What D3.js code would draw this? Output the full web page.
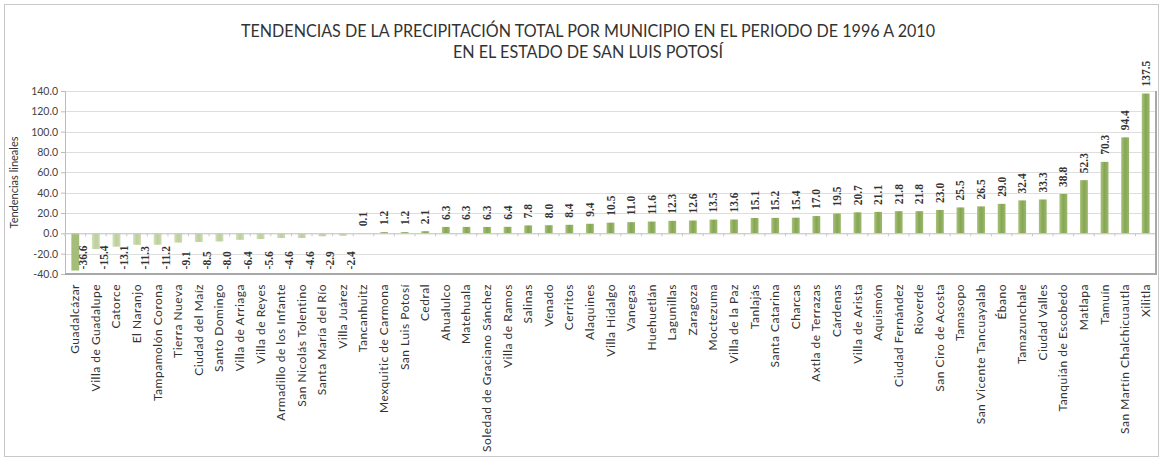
<!DOCTYPE html>
<html><head><meta charset="utf-8">
<script src="https://cdn.jsdelivr.net/npm/d3@7"></script>
<style>body{margin:0;background:#fff}svg{display:block}</style>
</head><body>
<script>
const municipios = ["Guadalcázar","Villa de Guadalupe","Catorce","El Naranjo","Tampamolón Corona","Tierra Nueva","Ciudad del Maíz","Santo Domingo","Villa de Arriaga","Villa de Reyes","Armadillo de los Infante","San Nicolás Tolentino","Santa María del Río","Villa Juárez","Tancanhuitz","Mexquitic de Carmona","San Luis Potosí","Cedral","Ahualulco","Matehuala","Soledad de Graciano Sánchez","Villa de Ramos","Salinas","Venado","Cerritos","Alaquines","Villa Hidalgo","Vanegas","Huehuetlán","Lagunillas","Zaragoza","Moctezuma","Villa de la Paz","Tanlajás","Santa Catarina","Charcas","Axtla de Terrazas","Cárdenas","Villa de Arista","Aquismón","Ciudad Fernández","Rioverde","San Ciro de Acosta","Tamasopo","San Vicente Tancuayalab","Ébano","Tamazunchale","Ciudad Valles","Tanquián de Escobedo","Matlapa","Tamuín","San Martín Chalchicuautla","Xilitla"];
const tendencias = [-36.6,-15.4,-13.1,-11.3,-11.2,-9.1,-8.5,-8.0,-6.4,-5.6,-4.6,-4.6,-2.9,-2.4,0.1,1.2,1.2,2.1,6.3,6.3,6.3,6.4,7.8,8.0,8.4,9.4,10.5,11.0,11.6,12.3,12.6,13.5,13.6,15.1,15.2,15.4,17.0,19.5,20.7,21.1,21.8,21.8,23.0,25.5,26.5,29.0,32.4,33.3,38.8,52.3,70.3,94.4,137.5];
const yTicks = [-40,-20,0,20,40,60,80,100,120,140];
const titleLines = ["TENDENCIAS DE LA PRECIPITACIÓN TOTAL POR MUNICIPIO EN EL PERIODO DE 1996 A 2010","EN EL ESTADO DE SAN LUIS POTOSÍ"];
const yTitle = "Tendencias lineales";

const W = 1162, H = 458;
const plot = {left: 65, right: 1156, top: 91, bottom: 274};
const svg = d3.select("body").append("svg").attr("width", W).attr("height", H);

// outer frame
svg.append("rect").attr("x", 4.5).attr("y", 4.5).attr("width", 1154).attr("height", 452)
  .attr("fill", "#fff").attr("stroke", "#c8c8c8");

const x = d3.scaleBand().domain(municipios).range([plot.left, plot.right]).paddingInner(0.62).paddingOuter(0.31);
const y = d3.scaleLinear().domain([-40, 140]).range([plot.bottom, plot.top]);

// title
svg.append("g").selectAll("text").data(titleLines).join("text")
  .attr("x", 588).attr("y", (d, i) => 37 + i * 21)
  .attr("text-anchor", "middle")
  .attr("font-family", "Lato, 'Liberation Sans', sans-serif")
  .attr("font-size", 17).attr("fill", "#333")
  .attr("textLength", (d, i) => i === 0 ? 694 : 270).attr("lengthAdjust", "spacingAndGlyphs")
  .text(d => d);

// gridlines
svg.append("g").selectAll("line").data(yTicks).join("line")
  .attr("x1", plot.left).attr("x2", plot.right)
  .attr("y1", d => Math.round(y(d)) + 0.5).attr("y2", d => Math.round(y(d)) + 0.5)
  .attr("stroke", "#dedede");

// y axis
const yAxis = d3.axisLeft(y).tickValues(yTicks).tickFormat(d3.format(".1f")).tickSize(4).tickPadding(3);
const ga = svg.append("g").attr("transform", `translate(${plot.left},0)`).call(yAxis);
ga.select(".domain").attr("stroke", "#bbb");
ga.selectAll(".tick line").attr("stroke", "#bbb");
ga.selectAll(".tick text").attr("font-family", "Lato, 'Liberation Sans', sans-serif").attr("font-size", 10.5).attr("fill", "#444")
  .text(d => d3.format(".1f")(d).replace("−", "-"));

// y title
svg.append("text").attr("transform", `translate(18,${(plot.top + plot.bottom) / 2}) rotate(-90)`)
  .attr("text-anchor", "middle").attr("font-family", "Lato, 'Liberation Sans', sans-serif")
  .attr("font-size", 11).attr("fill", "#333").text(yTitle);

// gradients
const defs = svg.append("defs");
const gp = defs.append("linearGradient").attr("id", "gpos").attr("x1", 0).attr("x2", 1).attr("y1", 0).attr("y2", 0);
gp.append("stop").attr("offset", 0).attr("stop-color", "#a9c27c");
gp.append("stop").attr("offset", 0.5).attr("stop-color", "#86a653");
gp.append("stop").attr("offset", 1).attr("stop-color", "#9ab86b");
const gn = defs.append("linearGradient").attr("id", "gneg").attr("x1", 0).attr("x2", 1).attr("y1", 0).attr("y2", 0);
gn.append("stop").attr("offset", 0).attr("stop-color", "#d2dfbb");
gn.append("stop").attr("offset", 0.5).attr("stop-color", "#bccf99");
gn.append("stop").attr("offset", 1).attr("stop-color", "#cddab4");

// bars
svg.append("g").selectAll("rect").data(tendencias).join("rect")
  .attr("x", (d, i) => x(municipios[i]))
  .attr("width", x.bandwidth())
  .attr("y", d => y(Math.max(0, d)))
  .attr("height", d => Math.abs(y(d) - y(0)))
  .attr("fill", (d, i) => d >= 0 ? "url(#gpos)" : (i === 0 ? "#a4bd78" : "url(#gneg)"));

// zero axis with category ticks
const xAxis = d3.axisBottom(x).tickSize(3).tickFormat("");
const gx = svg.append("g").attr("transform", `translate(0,${y(0)})`).call(xAxis);
gx.select(".domain").attr("stroke", "#c8c8c8");
gx.selectAll(".tick").attr("transform", d => `translate(${x(d) - x.step() * x.paddingInner() / 2},0)`);
gx.selectAll(".tick line").attr("stroke", "#c8c8c8");

// plot border (right/bottom)
svg.append("path").attr("d", `M${plot.left},${plot.bottom}H${plot.right}V${plot.top}`)
  .attr("fill", "none").attr("stroke", "#a8a8a8").attr("stroke-width", 2);

// value labels
svg.append("g").selectAll("text").data(tendencias).join("text")
  .attr("transform", (d, i) => {
    const cx = x(municipios[i]) + x.bandwidth() / 2;
    if (d >= 0) return `translate(${cx + 4},${y(d) - 7}) rotate(-90)`;
    return `translate(${cx + 12},${y(-35.5)}) rotate(-90)`;
  })
  .attr("font-family", "'Liberation Serif', serif").attr("font-size", 11.5).attr("font-weight", "bold")
  .attr("fill", "#333").text(d => d.toFixed(1));

// category labels
svg.append("g").selectAll("text").data(municipios).join("text")
  .attr("transform", d => `translate(${x(d) + x.bandwidth() / 2 + 4},${plot.bottom + 10}) rotate(-90)`)
  .attr("text-anchor", "end")
  .attr("font-family", "Lato, 'Liberation Sans', sans-serif").attr("font-size", 12).attr("letter-spacing", 0.5).attr("fill", "#333")
  .text(d => d);
</script>
</body></html>
